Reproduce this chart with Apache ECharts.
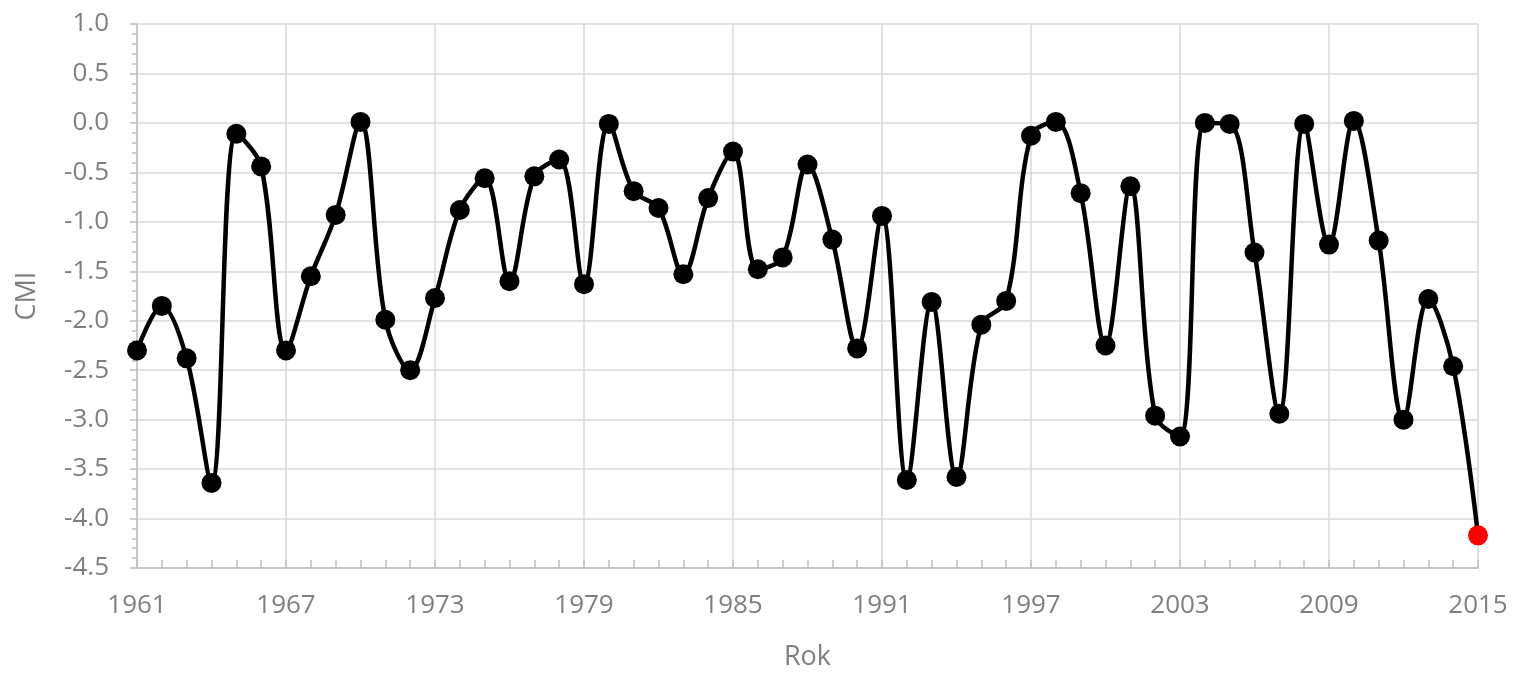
<!DOCTYPE html>
<html>
<head>
<meta charset="utf-8">
<script src="https://cdn.jsdelivr.net/npm/echarts@6/dist/echarts.min.js"></script>
<style>
html,body{margin:0;padding:0;background:#fff;}
#chart{width:1516px;height:677px;}
</style>
</head>
<body>
<div id="chart"></div>
<script>
const years = [];
for (let y = 1961; y <= 2015; y++) years.push(String(y));

const cmiValues = [
  -2.30, -1.85, -2.38, -3.64, -0.11, -0.44, -2.30, -1.55, -0.93, 0.01,
  -1.99, -2.50, -1.77, -0.88, -0.56, -1.60, -0.54, -0.37, -1.63, -0.01,
  -0.69, -0.86, -1.53, -0.76, -0.29, -1.48, -1.36, -0.42, -1.18, -2.28,
  -0.94, -3.61, -1.81, -3.58, -2.04, -1.80, -0.13, 0.01, -0.71, -2.25,
  -0.64, -2.96, -3.17, 0.00, -0.01, -1.31, -2.94, -0.01, -1.23, 0.02,
  -1.19, -3.00, -1.78, -2.46, -4.17
];

const yAxisMin = -4.5;
const yAxisMax = 1.0;
const yAxisStep = 0.5;

const xAxisTitle = 'Rok';
const yAxisTitle = 'CMI';

const lastIndex = cmiValues.length - 1;
const seriesData = cmiValues.map((v, i) =>
  i === lastIndex ? { value: v, itemStyle: { color: '#ff0000' } } : v
);

const textColor = '#7f7f7f';
const fontFamily = '"Open Sans", "Liberation Sans", sans-serif';
const gridColor = '#d9d9d9';

const chart = echarts.init(document.getElementById('chart'), null, { renderer: 'canvas' });
chart.setOption({
  backgroundColor: '#ffffff',
  animation: false,
  grid: { left: 137, right: 38, top: 24, bottom: 109, containLabel: false },
  xAxis: {
    type: 'category',
    data: years,
    boundaryGap: false,
    name: xAxisTitle,
    nameLocation: 'middle',
    nameGap: 76,
    nameTextStyle: { color: textColor, fontSize: 27, fontFamily: fontFamily },
    axisLine: { show: true, onZero: false, lineStyle: { color: '#bfbfbf', width: 1.5 } },
    axisTick: { show: true, inside: true, interval: 0, length: 8, lineStyle: { color: '#bfbfbf', width: 1.5 } },
    axisLabel: { interval: 5, color: textColor, fontSize: 26, fontFamily: fontFamily, margin: 25 },
    splitLine: { show: true, interval: 5, lineStyle: { color: gridColor, width: 1.5 } }
  },
  yAxis: {
    type: 'value',
    min: yAxisMin,
    max: yAxisMax,
    interval: yAxisStep,
    name: yAxisTitle,
    nameLocation: 'middle',
    nameGap: 96,
    nameRotate: 90,
    nameTextStyle: { color: textColor, fontSize: 27, fontFamily: fontFamily },
    axisLine: { show: true, lineStyle: { color: '#bfbfbf', width: 1.5 } },
    axisTick: { show: true, inside: false, length: 7, lineStyle: { color: '#bfbfbf', width: 1.5 } },
    minorTick: { show: true, splitNumber: 5, length: 5, lineStyle: { color: '#bfbfbf', width: 1.5 } },
    axisLabel: {
      color: textColor, fontSize: 26, fontFamily: fontFamily, margin: 28,
      formatter: v => v.toFixed(1)
    },
    splitLine: { show: true, lineStyle: { color: gridColor, width: 1.5 } }
  },
  series: [{
    type: 'line',
    data: seriesData,
    smooth: 0.35,
    symbol: 'circle',
    symbolSize: 20,
    showAllSymbol: true,
    lineStyle: { color: '#000000', width: 4.5 },
    itemStyle: { color: '#000000' },
    z: 3
  }]
});
</script>
</body>
</html>
